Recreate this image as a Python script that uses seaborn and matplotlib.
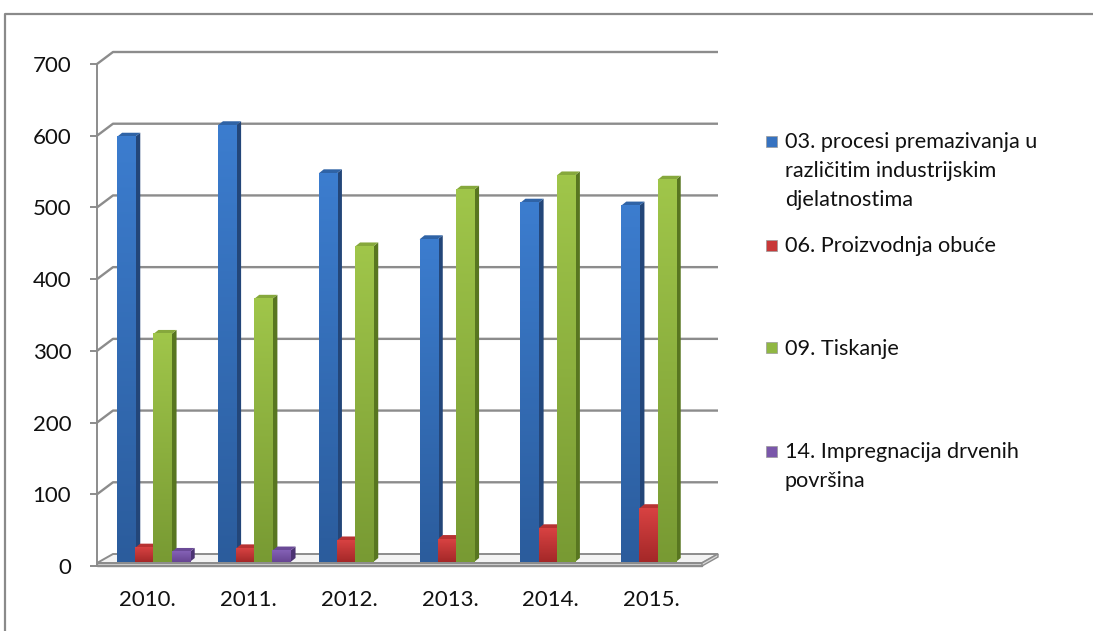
import numpy as np
import pandas as pd
import matplotlib
matplotlib.use("Agg")
import matplotlib.pyplot as plt
import seaborn as sns
from matplotlib.transforms import ScaledTranslation
from matplotlib.patches import Polygon, Rectangle
from matplotlib.lines import Line2D
from matplotlib.colors import LinearSegmentedColormap

# ---- data -------------------------------------------------------------
years = ["2010.", "2011.", "2012.", "2013.", "2014.", "2015."]
premazivanje = [593, 609, 542, 450, 501, 497]
obuca = [20, 19, 30, 32, 47, 75]
tiskanje = [318, 367, 440, 519, 539, 533]
impregnacija = [14, 16, np.nan, np.nan, np.nan, np.nan]

series_names = [
    "03. procesi premazivanja u\nrazličitim industrijskim\ndjelatnostima",
    "06. Proizvodnja obuće",
    "09. Tiskanje",
    "14. Impregnacija drvenih\npovršina",
]
series_values = [premazivanje, obuca, tiskanje, impregnacija]
y_ticks = [0, 100, 200, 300, 400, 500, 600, 700]

# ---- styling ----------------------------------------------------------
# (bottom of gradient, top of gradient, side face, top face)
shades = [
    ("#2b5c9c", "#3c7dcf", "#234679", "#2f63a6"),
    ("#a42828", "#d84242", "#842020", "#b83232"),
    ("#789a33", "#a0c64a", "#587620", "#86a83c"),
    ("#674592", "#8461b6", "#4b3272", "#6a4a96"),
]
front_mid = ["#3672c0", "#c83838", "#90b743", "#7a57aa"]
grid_col = "#8c8c8c"

sns.set_theme(style="white")
plt.rcParams["font.family"] = ["Lato", "DejaVu Sans"]

W, H, DPI = 1093, 631, 100
fig = plt.figure(figsize=(W / DPI, H / DPI), dpi=DPI)
fig.patch.set_facecolor("white")

# front plane of the plot, in pixels
x0, x1 = 97, 702
y_top, y_bot = 64, 566
ax = fig.add_axes([x0 / W, (H - y_bot) / H, (x1 - x0) / W, (y_bot - y_top) / H])
ax.set_facecolor("none")

n_cat = len(years)
kx = (x1 - x0) / n_cat          # px per category
ky = (y_bot - y_top) / 700.0    # px per value unit


def px(dx, dy):
    """pixel offset -> data offset"""
    return dx / kx, dy / ky


# ---- back wall gridlines and floor -----------------------------------
wall_dx, wall_dy = px(16, 12)
for v in y_ticks[1:]:
    ax.plot([-0.5, -0.5 + wall_dx, n_cat - 0.5 + wall_dx], [v, v + wall_dy, v + wall_dy],
            color=grid_col, lw=1.7, zorder=1, clip_on=False, solid_capstyle="butt")

slab_dx, slab_dy = px(0, 3)
floor = Polygon([(-0.5, slab_dy), (n_cat - 0.5, slab_dy),
                 (n_cat - 0.5 + wall_dx, wall_dy), (-0.5 + wall_dx, wall_dy)],
                closed=True, facecolor="#f3f3f3", edgecolor=grid_col, lw=1.4,
                zorder=1.2, clip_on=False)
ax.add_patch(floor)
slab = Polygon([(-0.5, 0), (n_cat - 0.5, 0), (n_cat - 0.5, slab_dy), (-0.5, slab_dy)],
               closed=True, facecolor="#dadada", edgecolor=grid_col, lw=1.0,
               zorder=1.3, clip_on=False)
ax.add_patch(slab)
slab_side = Polygon([(n_cat - 0.5, 0), (n_cat - 0.5 + wall_dx, wall_dy - slab_dy),
                     (n_cat - 0.5 + wall_dx, wall_dy), (n_cat - 0.5, slab_dy)],
                    closed=True, facecolor="#dadada", edgecolor=grid_col, lw=1.0,
                    zorder=1.3, clip_on=False)
ax.add_patch(slab_side)

# ---- bars --------------------------------------------------------------
df = pd.DataFrame({
    "year": np.tile(years, len(series_names)),
    "series": np.repeat(series_names, n_cat),
    "value": np.concatenate([np.asarray(s, dtype=float) for s in series_values]),
}).dropna()

sns.barplot(data=df, x="year", y="value", hue="series", order=years,
            hue_order=series_names, palette=front_mid, width=0.72,
            saturation=1, errorbar=None, legend=False, linewidth=0, ax=ax)

bar_shift = ScaledTranslation(6 / DPI, 4 / DPI, fig.dpi_scale_trans)
bar_tr = ax.transData + bar_shift
ddx, ddy = px(5, 4)
grad = np.linspace(0, 1, 256).reshape(-1, 1)

for cont, (c_bot, c_top, c_side, c_topface) in zip(ax.containers, shades):
    cmap = LinearSegmentedColormap.from_list("g", [c_bot, c_top])
    for p in cont.patches:
        x, w, h = p.get_x(), p.get_width(), p.get_height()
        if not np.isfinite(h):
            continue
        z = 2 + x * 0.01
        p.set_transform(bar_tr)
        p.set_zorder(3)
        ax.imshow(grad, extent=(x, x + w, 0, h), origin="lower", cmap=cmap,
                  aspect="auto", transform=bar_tr, zorder=3.1, clip_on=False,
                  interpolation="bilinear")
        side = Polygon([(x + w, 0), (x + w + ddx, ddy), (x + w + ddx, h + ddy), (x + w, h)],
                       closed=True, facecolor=c_side, edgecolor="none",
                       transform=bar_tr, zorder=z, clip_on=False)
        top = Polygon([(x, h), (x + w, h), (x + w + ddx, h + ddy), (x + ddx, h + ddy)],
                      closed=True, facecolor=c_topface, edgecolor="none",
                      transform=bar_tr, zorder=z + 0.001, clip_on=False)
        ax.add_patch(side)
        ax.add_patch(top)

# ---- axes --------------------------------------------------------------
ax.set_xlim(-0.5, n_cat - 0.5)
ax.set_ylim(0, 700)
ax.set_xlabel("")
ax.set_ylabel("")
ax.set_yticks(y_ticks)
ax.set_yticklabels([str(t) for t in y_ticks])
ax.set_xticks(range(n_cat))
ax.set_xticklabels(years)
ax.set_xticks(np.arange(-0.5, n_cat, 1.0), minor=True)
ax.tick_params(axis="x", which="major", length=0, pad=17, labelsize=16, labelcolor="#111111")
ax.tick_params(axis="x", which="minor", length=5, width=1.4, color=grid_col, direction="out")
ax.tick_params(axis="y", which="major", length=5, width=1.4, color=grid_col, pad=13.5,
               labelsize=16, labelcolor="#111111", left=True, direction="out")
for s in ("top", "right"):
    ax.spines[s].set_visible(False)
for s in ("left", "bottom"):
    ax.spines[s].set_color(grid_col)
    ax.spines[s].set_linewidth(1.4)
    ax.spines[s].set_zorder(1.4)

# ---- legend ------------------------------------------------------------
leg_centers = [141.5, 245, 348, 451.5]   # centre of each entry's first line, px from top
for name, cy, col in zip(series_names, leg_centers, front_mid):
    fig.text(785 / W, 1 - (cy - 9) / H, name, fontsize=15.6, color="#111111",
             va="top", ha="left", linespacing=1.56)
    fig.patches.append(Rectangle((766 / W, 1 - (cy + 5.5) / H), 11 / W, 11 / H,
                                 transform=fig.transFigure, facecolor=col,
                                 edgecolor="#9a9a9a", lw=0.5))

# ---- outer frame -------------------------------------------------------
fig.lines.append(Line2D([5 / W, 5 / W, 1.0], [0.0, 1 - 14 / H, 1 - 14 / H],
                        transform=fig.transFigure, color="#8a8a8a", lw=1.6))

fig.savefig("out.png", dpi=DPI)
